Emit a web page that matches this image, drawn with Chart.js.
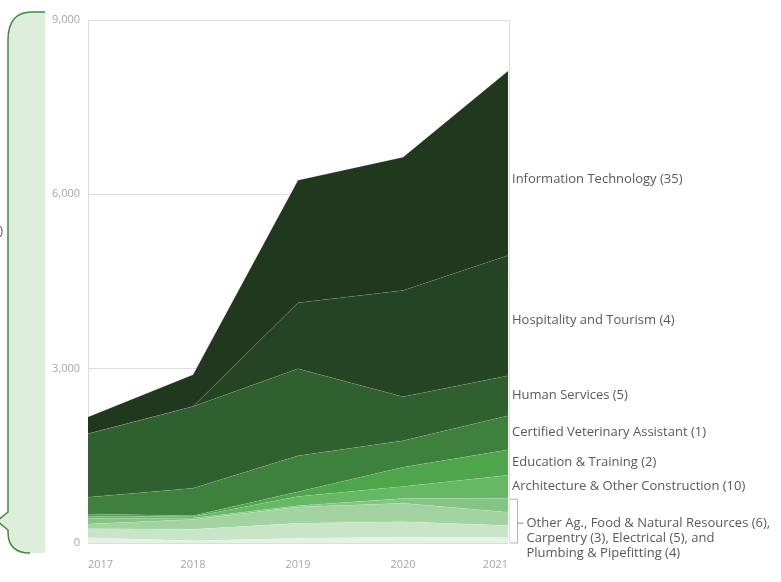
<!DOCTYPE html>
<html>
<head>
<meta charset="utf-8">
<script src="https://cdn.jsdelivr.net/npm/chart.js@4/dist/chart.umd.min.js"></script>
<style>
  html, body { margin: 0; padding: 0; background: #ffffff; }
  #wrap { width: 781px; height: 582px; position: relative; }
</style>
</head>
<body>
<div id="wrap"><canvas id="c" width="781" height="582"></canvas></div>
<script>
// ---- data ----
const years = ['2017', '2018', '2019', '2020', '2021'];
const plumbing = [90, 40, 81, 98, 90];
const electrical = [157, 196, 259, 269, 210];
const carpentry = [81, 169, 280, 317, 230];
const otherAg = [92, 25, 20, 80, 240];
const architecture = [40, 20, 160, 207, 395];
const education = [40, 20, 80, 334, 438];
const certVet = [288, 473, 620, 455, 587];
const humanServices = [1091, 1407, 1500, 757, 689];
const hospitality = [0, 0, 1133, 1828, 2069];
const infoTech = [288, 547, 2108, 2293, 3173];
const yTicks = [0, 3000, 6000, 9000];

const seriesNames = [
  'Plumbing & Pipefitting (4)', 'Electrical (5)', 'Carpentry (3)',
  'Other Ag., Food & Natural Resources (6)', 'Architecture & Other Construction (10)',
  'Education & Training (2)', 'Certified Veterinary Assistant (1)',
  'Human Services (5)', 'Hospitality and Tourism (4)', 'Information Technology (35)'
];
const seriesValues = [plumbing, electrical, carpentry, otherAg, architecture,
  education, certVet, humanServices, hospitality, infoTech];
const seriesColors = ['#E6F2E5', '#C8E6C7', '#A3D3A1', '#85C584', '#66B865',
  '#4EA54C', '#3E813C', '#316030', '#254423', '#20381E'];
const groupText = ['Other Ag., Food & Natural Resources (6),', 'Carpentry (3), Electrical (5), and', 'Plumbing & Pipefitting (4)'];
const sideText = 'All Programs (75)';

const FONT = "'Open Sans', 'Noto Sans', sans-serif";

const datasets = seriesValues.map((vals, i) => ({
  label: seriesNames[i],
  data: vals,
  backgroundColor: seriesColors[i],
  borderColor: 'rgba(255,255,255,0.18)',
  borderWidth: 0.6,
  pointRadius: 0,
  pointHoverRadius: 0,
  tension: 0,
  fill: i === 0 ? 'origin' : '-1'
}));

const decorPlugin = {
  id: 'decor',
  beforeDraw(chart) {
    const ctx = chart.ctx;
    ctx.save();
    const bracePath = (close) => {
      ctx.beginPath();
      ctx.moveTo(45, 12);
      ctx.lineTo(32, 12);
      ctx.quadraticCurveTo(8, 12, 8, 40);
      ctx.lineTo(8, 512);
      ctx.lineTo(-3, 521);
      ctx.lineTo(8, 530);
      ctx.lineTo(8, 532);
      ctx.quadraticCurveTo(8, 553, 30, 553);
      if (close) { ctx.lineTo(45, 553); ctx.closePath(); }
    };
    bracePath(true);
    ctx.fillStyle = '#DDEEDC';
    ctx.fill();
    bracePath(false);
    ctx.strokeStyle = '#3F8A3E';
    ctx.lineWidth = 1.5;
    ctx.stroke();
    ctx.font = '13px ' + FONT;
    ctx.fillStyle = '#595959';
    ctx.textAlign = 'right';
    ctx.textBaseline = 'middle';
    ctx.fillText(sideText, 3, 231);
    ctx.restore();
  },
  afterDatasetsDraw(chart) {
    const ctx = chart.ctx;
    const area = chart.chartArea;
    const yScale = chart.scales.y;
    ctx.save();
    // right border of plot
    ctx.strokeStyle = '#DDDDDD';
    ctx.lineWidth = 1;
    ctx.beginPath();
    ctx.moveTo(area.right + 1.5, area.top);
    ctx.lineTo(area.right + 1.5, area.bottom);
    ctx.stroke();

    const n = chart.data.datasets.length;
    const last = years.length - 1;
    const topY = i => chart.getDatasetMeta(i).data[last].y;
    const botY = i => (i === 0 ? yScale.getPixelForValue(0) : topY(i - 1));

    ctx.font = '13px ' + FONT;
    ctx.fillStyle = '#595959';
    ctx.textAlign = 'left';
    ctx.textBaseline = 'middle';
    for (let i = 4; i < n; i++) {
      let mid = (topY(i) + botY(i)) / 2;
      if (i === n - 1) mid += 16;
      if (i === n - 2) mid += 5;
      ctx.fillText(seriesNames[i], area.right + 4, mid);
    }
    // bracket for the small group (datasets 0..3)
    const gTop = topY(3) + 1;
    const gBot = yScale.getPixelForValue(0);
    const bx = area.right + 9.5;
    ctx.strokeStyle = '#8FCB8E';
    ctx.lineWidth = 1;
    ctx.beginPath();
    ctx.moveTo(area.right + 2, gTop);
    ctx.lineTo(bx, gTop);
    ctx.lineTo(bx, gBot);
    ctx.lineTo(area.right + 2, gBot);
    ctx.stroke();
    const gMid = (gTop + gBot) / 2 + 2;
    ctx.strokeStyle = '#888888';
    ctx.beginPath();
    ctx.moveTo(bx, gMid);
    ctx.lineTo(bx + 6, gMid);
    ctx.stroke();
    groupText.forEach((t, k) => {
      ctx.fillText(t, bx + 9, gMid + k * 15);
    });
    ctx.restore();
  }
};

new Chart(document.getElementById('c'), {
  type: 'line',
  data: { labels: years, datasets },
  plugins: [decorPlugin],
  options: {
    responsive: false,
    animation: false,
    events: [],
    layout: { padding: { left: 0, right: 273, top: 20, bottom: 0 } },
    plugins: { legend: { display: false }, tooltip: { enabled: false } },
    elements: { line: { borderJoinStyle: 'miter' } },
    scales: {
      x: {
        offset: false,
        grid: { display: false, drawTicks: false },
        border: { display: false },
        ticks: {
          color: '#A6A6A6',
          font: { family: FONT, size: 11 },
          padding: 15,
          align: 'inner',
          maxRotation: 0
        },
        afterFit(scale) { scale.height = 39; }
      },
      y: {
        stacked: true,
        min: 0,
        max: 9000,
        afterBuildTicks(scale) { scale.ticks = yTicks.map(v => ({ value: v })); },
        grid: { color: '#DDDDDD', drawTicks: false, lineWidth: 1 },
        border: { display: true, color: '#DDDDDD' },
        ticks: {
          color: '#A6A6A6',
          font: { family: FONT, size: 11 },
          padding: 8,
          callback: v => Number(v).toLocaleString('en-US')
        },
        afterFit(scale) { scale.width = 88; }
      }
    }
  }
});
</script>
</body>
</html>
